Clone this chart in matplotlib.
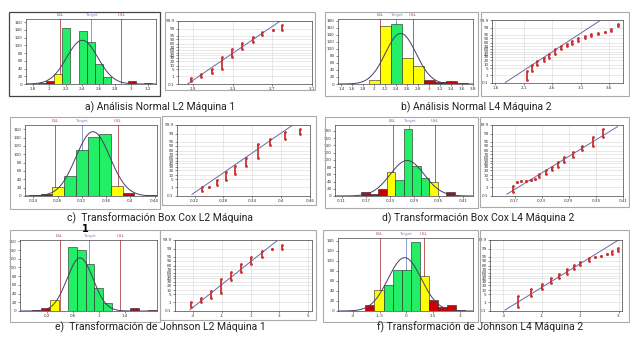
import matplotlib
matplotlib.use('Agg')
import matplotlib.pyplot as plt
from matplotlib.patches import Rectangle
from matplotlib.ticker import NullLocator
from matplotlib.transforms import blended_transform_factory
import numpy as np
from statistics import NormalDist

W, H = 630, 340

# ============== DATA ==============
# a) Normal L2 machine 1
a_ticks = [1.8, 2.0, 2.2, 2.4, 2.6, 2.8, 3.0, 3.2]
a_bin_start, a_bin_width = 1.855, 0.1
a_counts = [3, 8, 26, 144, 0, 137, 108, 52, 18, 0, 0, 7, 0, 2]
a_status = ['r', 'r', 'y', 'g', 'g', 'g', 'g', 'g', 'g', 'g', 'g', 'r', 'r', 'r']
a_fit = (2.40, 0.19, 113)          # mean, sd, peak height
a_spec = (2.13, 2.508, 2.874)      # LSL, Target, USL
a_xlim, a_ymax, a_yticks = (1.714, 3.30), 168, list(range(0, 161, 20))

a_p_ticks = [1.9, 2.3, 2.7, 3.1]
a_p_x = [1.88, 1.98, 2.09, 2.19, 2.29, 2.39, 2.50, 2.60, 2.71, 2.80]
a_p_lo = [0.25, 0.9, 2.3, 5.8, 33, 62, 85, 95.5, 98.7, 98.7]
a_p_hi = [0.66, 1.6, 5.8, 33, 65, 83, 94, 97.8, 98.7, 99.6]
a_p_line_x, a_p_line_p = [1.844, 2.78], [0.1, 99.9]
a_p_xlim = (1.748, 3.10)

# b) Normal L4 machine 2
b_ticks = [1.4, 1.6, 1.8, 2.0, 2.2, 2.4, 2.6, 2.8, 3.0, 3.2, 3.4, 3.6, 3.8]
b_bin_start, b_bin_width = 1.9, 0.2
b_counts = [12, 166, 172, 74, 50, 10, 6, 8, 3]
b_status = ['y', 'y', 'g', 'y', 'y', 'r', 'r', 'r', 'r']
b_fit = (2.482, 0.28, 144)
b_spec = (2.10, 2.40, 2.706)
b_xlim, b_ymax, b_yticks = (1.34, 3.80), 185, list(range(0, 181, 20))

b_p_ticks = [1.6, 2.1, 2.6, 3.1, 3.6]
b_p_x = [2.15, 2.24, 2.325, 2.445, 2.54, 2.645, 2.75, 2.85, 2.95, 3.055,
         3.17, 3.285, 3.40, 3.52, 3.635, 3.75]
b_p_lo = [0.28, 2.5, 10, 17, 26, 40, 58, 70, 78, 84, 90, 94, 96, 97, 97.8, 99.3]
b_p_hi = [2.5, 10, 17, 26, 40, 58, 70, 78, 84, 90, 93.5, 95.5, 96.5, 97, 98.5, 99.6]
b_p_line_x, b_p_line_p = [1.775, 3.43], [0.12, 99.87]
b_p_xlim = (1.54, 3.84)

# c) Box Cox L2 machine
c_ticks = [0.24, 0.28, 0.32, 0.36, 0.40, 0.44]
c_bin_start, c_bin_width = 0.233, 0.0193
c_counts = [2, 5, 21, 49, 110, 141, 149, 23, 7, 0, 3]
c_status = ['r', 'r', 'y', 'g', 'g', 'g', 'g', 'y', 'r', 'r', 'r']
c_fit = (0.3384, 0.028, 154)
c_spec = (0.276, 0.320, 0.379)
c_xlim, c_ymax, c_yticks = (0.2264, 0.444), 170, list(range(0, 161, 20))

c_p_ticks = [0.22, 0.28, 0.34, 0.40, 0.46]
c_p_x = [0.235, 0.249, 0.266, 0.285, 0.304, 0.326, 0.351, 0.377, 0.408, 0.44]
c_p_lo = [0.35, 1.1, 1.7, 4.5, 12, 33, 60, 91, 97.2, 98.9]
c_p_hi = [1.1, 1.1, 4.7, 15, 33, 60, 92, 97.2, 99.4, 99.66]
c_p_line_x, c_p_line_p = [0.2146, 0.4216], [0.16, 99.87]
c_p_xlim = (0.1834, 0.4594)

# d) Box Cox L4 machine 2
d_ticks = [0.11, 0.17, 0.23, 0.29, 0.35, 0.41]
d_bin_start, d_bin_width = 0.158, 0.021
d_counts = [10, 6, 20, 66, 44, 184, 82, 51, 40, 0, 10]
d_status = ['r', 'r', 'r', 'y', 'g', 'g', 'g', 'g', 'y', 'r', 'r']
d_fit = (0.272, 0.042, 98)
d_spec = (0.236, 0.2768, 0.340)
d_xlim, d_ymax, d_yticks = (0.0938, 0.4346), 196, list(range(0, 181, 20))

d_p_ticks = [0.17, 0.23, 0.29, 0.35, 0.41]
d_p_x = [0.1658, 0.1754, 0.1844, 0.1946, 0.2054, 0.2156, 0.2246, 0.2396,
         0.254, 0.2666, 0.2798, 0.2996, 0.3194, 0.3434, 0.3656]
d_p_lo = [0.32, 3.3, 3.75, 4.0, 4.5, 5.2, 7.4, 12.5, 19.5, 28.8, 45.6, 63, 80.8, 90, 98]
d_p_hi = [1.43, 3.3, 3.75, 4.0, 4.5, 5.2, 12.5, 19.5, 28.8, 45.6, 63, 78, 90, 98, 99.71]
d_p_line_x, d_p_line_p = [0.1532, 0.398], [0.17, 99.84]
d_p_xlim = (0.1202, 0.4094)

# e) Johnson L2 machine 1
e_ticks = [0.2, 0.6, 1.0, 1.4]
e_bin_start, e_bin_width = -0.032, 0.138
e_counts = [2, 6, 26, 0, 147, 139, 108, 52, 18, 0, 0, 8, 0, 2]
e_status = ['r', 'r', 'y', 'g', 'g', 'g', 'g', 'g', 'g', 'g', 'g', 'r', 'r', 'r']
e_fit = (0.712, 0.20, 122)
e_spec = (0.396, 0.856, 1.328)
e_xlim, e_ymax, e_yticks = (-0.212, 1.896), 163, list(range(0, 161, 20))

e_p_ticks = [-3, -1, 1, 3, 5]
e_p_x = [-3.16, -2.46, -1.76, -1.06, -0.36, 0.34, 1.04, 1.80, 2.50, 3.20]
e_p_lo = [0.29, 0.96, 2.6, 6.6, 35, 63, 84, 94.5, 98.9, 98.9]
e_p_hi = [0.96, 2.6, 8.7, 37, 63, 84, 94.5, 98.2, 98.9, 99.6]
e_p_line_x, e_p_line_p = [-3.24, 2.84], [0.14, 99.87]
e_p_xlim = (-4.28, 5.3)

# f) Johnson L4 machine 2
f_ticks = [-3, -1.5, 0, 1.5, 3]
f_bin_start, f_bin_width = -2.3, 0.51
f_counts = [11, 41, 51, 82, 81, 137, 69, 21, 7, 12, 1]
f_status = ['r', 'y', 'g', 'g', 'g', 'g', 'y', 'r', 'r', 'r', 'r']
f_fit = (-0.09, 0.93, 106)
f_spec = (-1.5, -0.03, 0.99)
f_xlim, f_ymax, f_yticks = (-3.84, 3.75), 145, list(range(0, 141, 20))

f_p_ticks = [-3, -1, 1, 3]
f_p_x = [-2.22, -1.56, -1.0, -0.52, -0.10, 0.30, 0.66, 1.0, 1.44, 1.78, 2.10, 2.40, 2.66, 2.96]
f_p_lo = [0.34, 3.6, 11.5, 25.5, 40.5, 56, 72.6, 81.6, 89.6, 95.0, 95.9, 96.9, 96.9, 98.5]
f_p_hi = [3.6, 12.7, 22.7, 40.5, 56, 72.6, 81.6, 87.3, 93.3, 95.0, 95.9, 96.9, 98.5, 99.2]
f_p_line_x, f_p_line_p = [-2.92, 3.0], [0.13, 99.9]
f_p_xlim = (-3.7, 3.18)

captions = ["a) Análisis Normal L2 Máquina 1", "b) Análisis Normal L4 Máquina 2",
            "c)  Transformación Box Cox L2 Máquina", "d) Transformación Box Cox L4 Máquina 2",
            "e)  Transformación de Johnson L2 Máquina 1", "f) Transformación de Johnson L4 Máquina 2"]
prob_ticks = [0.1, 1, 5, 10, 20, 30, 40, 50, 60, 70, 80, 90, 95, 99, 99.9]
# ==================================

COLORS = {'g': '#22ee66', 'y': '#ffff00', 'r': '#cc0000'}
ND = NormalDist()


def _fwd(p):
    p = np.clip(np.asarray(p, dtype=float), 1e-3, 100 - 1e-3) / 100.0
    return np.vectorize(ND.inv_cdf, otypes=[float])(p)


def _inv(z):
    return 100 * np.vectorize(ND.cdf, otypes=[float])(np.asarray(z, dtype=float))


def px_axes(fig, l, t, r, b):
    return fig.add_axes([l / W, 1 - b / H, (r - l) / W, (b - t) / H])


def frame(fig, l, t, r, b, color='#aaaaaa', lw=0.8):
    fig.patches.append(Rectangle((l / W, 1 - b / H), (r - l) / W, (b - t) / H,
                                 transform=fig.transFigure, fill=False,
                                 edgecolor=color, linewidth=lw))


def style(ax):
    for s in ax.spines.values():
        s.set_linewidth(0.5)
        s.set_color('#444444')
    ax.tick_params(length=1.5, width=0.4, pad=1, labelsize=3, colors='#333333')


def hist_panel(ax, ticks, start, width, counts, status, fit, spec, xlim, ymax, yticks):
    lefts = [start + width * i for i in range(len(counts))]
    for x, c, s in zip(lefts, counts, status):
        if c > 0:
            ax.bar(x, c, width, align='edge', color=COLORS[s],
                   edgecolor='#222222', linewidth=0.4, zorder=2)
    mu, sd, peak = fit
    xs = np.linspace(xlim[0], xlim[1], 300)
    ax.plot(xs, peak * np.exp(-0.5 * ((xs - mu) / sd) ** 2), color='#4a3b66',
            lw=0.7, zorder=3)
    tr = blended_transform_factory(ax.transData, ax.transAxes)
    for v, lab, col in zip(spec, ['LSL', 'Target', 'USL'], ['#b04848', '#7a8cc4', '#b04848']):
        ax.axvline(v, color=col, lw=0.6, zorder=1)
        ax.text(v, 1.03, lab, transform=tr, ha='center', va='bottom',
                fontsize=3, color=col)
    ax.set_xlim(*xlim)
    ax.set_ylim(0, ymax)
    ax.set_xticks(ticks)
    ax.set_xticklabels([f'{t:g}' for t in ticks])
    ax.set_yticks(yticks)
    style(ax)


def prob_panel(ax, ticks, px, lo, hi, line_x, line_p, xlim):
    ax.set_yscale('function', functions=(_fwd, _inv))
    ax.set_ylim(0.1, 99.9)
    ax.set_xlim(*xlim)
    ax.set_yticks(prob_ticks)
    ax.set_yticklabels([f'{t:g}' for t in prob_ticks])
    ax.yaxis.set_minor_locator(NullLocator())
    ax.set_xticks(ticks)
    ax.set_xticklabels([f'{t:g}' for t in ticks])
    ax.grid(True, color='#d8d8d8', lw=0.4)
    ax.set_axisbelow(True)
    ax.plot(line_x, line_p, color='#6a6aa8', lw=0.7, zorder=2)
    ax.vlines(px, lo, hi, color='#c83232', lw=1.3, zorder=3)
    ax.plot(px, lo, 'o', color='#c83232', ms=1, zorder=3)
    ax.plot(px, hi, 'o', color='#c83232', ms=1, zorder=3)
    style(ax)


fig = plt.figure(figsize=(6.3, 3.4), dpi=100)
fig.patch.set_facecolor('white')

# outer frames
frame(fig, 9, 12, 160, 96, '#444444', 0.9)
frame(fig, 165, 12, 315, 90)
frame(fig, 325, 12, 478, 96)
frame(fig, 481, 12, 629, 96)
frame(fig, 10, 117, 160, 209)
frame(fig, 162, 116, 316, 205)
frame(fig, 325, 117, 478, 208)
frame(fig, 480, 117, 629, 207)
frame(fig, 10, 230, 160, 322)
frame(fig, 160, 230, 316, 320)
frame(fig, 323, 230, 478, 322)
frame(fig, 480, 230, 629, 322)

hist_panel(px_axes(fig, 26, 19, 156, 84), a_ticks, a_bin_start, a_bin_width, a_counts,
           a_status, a_fit, a_spec, a_xlim, a_ymax, a_yticks)
prob_panel(px_axes(fig, 178, 21, 312, 84), a_p_ticks, a_p_x, a_p_lo, a_p_hi,
           a_p_line_x, a_p_line_p, a_p_xlim)
hist_panel(px_axes(fig, 338, 19, 473, 84), b_ticks, b_bin_start, b_bin_width, b_counts,
           b_status, b_fit, b_spec, b_xlim, b_ymax, b_yticks)
prob_panel(px_axes(fig, 492, 20, 623, 83), b_p_ticks, b_p_x, b_p_lo, b_p_hi,
           b_p_line_x, b_p_line_p, b_p_xlim)

hist_panel(px_axes(fig, 25, 125, 157, 196), c_ticks, c_bin_start, c_bin_width, c_counts,
           c_status, c_fit, c_spec, c_xlim, c_ymax, c_yticks)
prob_panel(px_axes(fig, 177, 125, 310, 196), c_p_ticks, c_p_x, c_p_lo, c_p_hi,
           c_p_line_x, c_p_line_p, c_p_xlim)
hist_panel(px_axes(fig, 335, 125, 473, 196), d_ticks, d_bin_start, d_bin_width, d_counts,
           d_status, d_fit, d_spec, d_xlim, d_ymax, d_yticks)
prob_panel(px_axes(fig, 492, 125, 623, 196), d_p_ticks, d_p_x, d_p_lo, d_p_hi,
           d_p_line_x, d_p_line_p, d_p_xlim)

ax_e = px_axes(fig, 20, 240, 157, 311)
hist_panel(ax_e, e_ticks, e_bin_start, e_bin_width, e_counts,
           e_status, e_fit, e_spec, e_xlim, e_ymax, e_yticks)
prob_panel(px_axes(fig, 175, 240, 312, 311), e_p_ticks, e_p_x, e_p_lo, e_p_hi,
           e_p_line_x, e_p_line_p, e_p_xlim)
hist_panel(px_axes(fig, 338, 238, 473, 311), f_ticks, f_bin_start, f_bin_width, f_counts,
           f_status, f_fit, f_spec, f_xlim, f_ymax, f_yticks)
prob_panel(px_axes(fig, 490, 240, 622, 311), f_p_ticks, f_p_x, f_p_lo, f_p_hi,
           f_p_line_x, f_p_line_p, f_p_xlim)

# stray "1" marker above panel e (kept just clear of the Target label)
fig.text(85 / W, 1 - 228.5 / H, '1', fontsize=7, fontweight='bold', ha='center', va='center')

# captions
cap_pos = [(160, 107), (476, 107), (160, 218), (478, 218), (160, 327), (480, 327)]
for (cx, cy), txt in zip(cap_pos, captions):
    fig.text(cx / W, 1 - cy / H, txt, ha='center', va='center', fontsize=7.5,
             family=['Roboto', 'DejaVu Sans'], color='#222222')

fig.savefig('out.png', dpi=100)
